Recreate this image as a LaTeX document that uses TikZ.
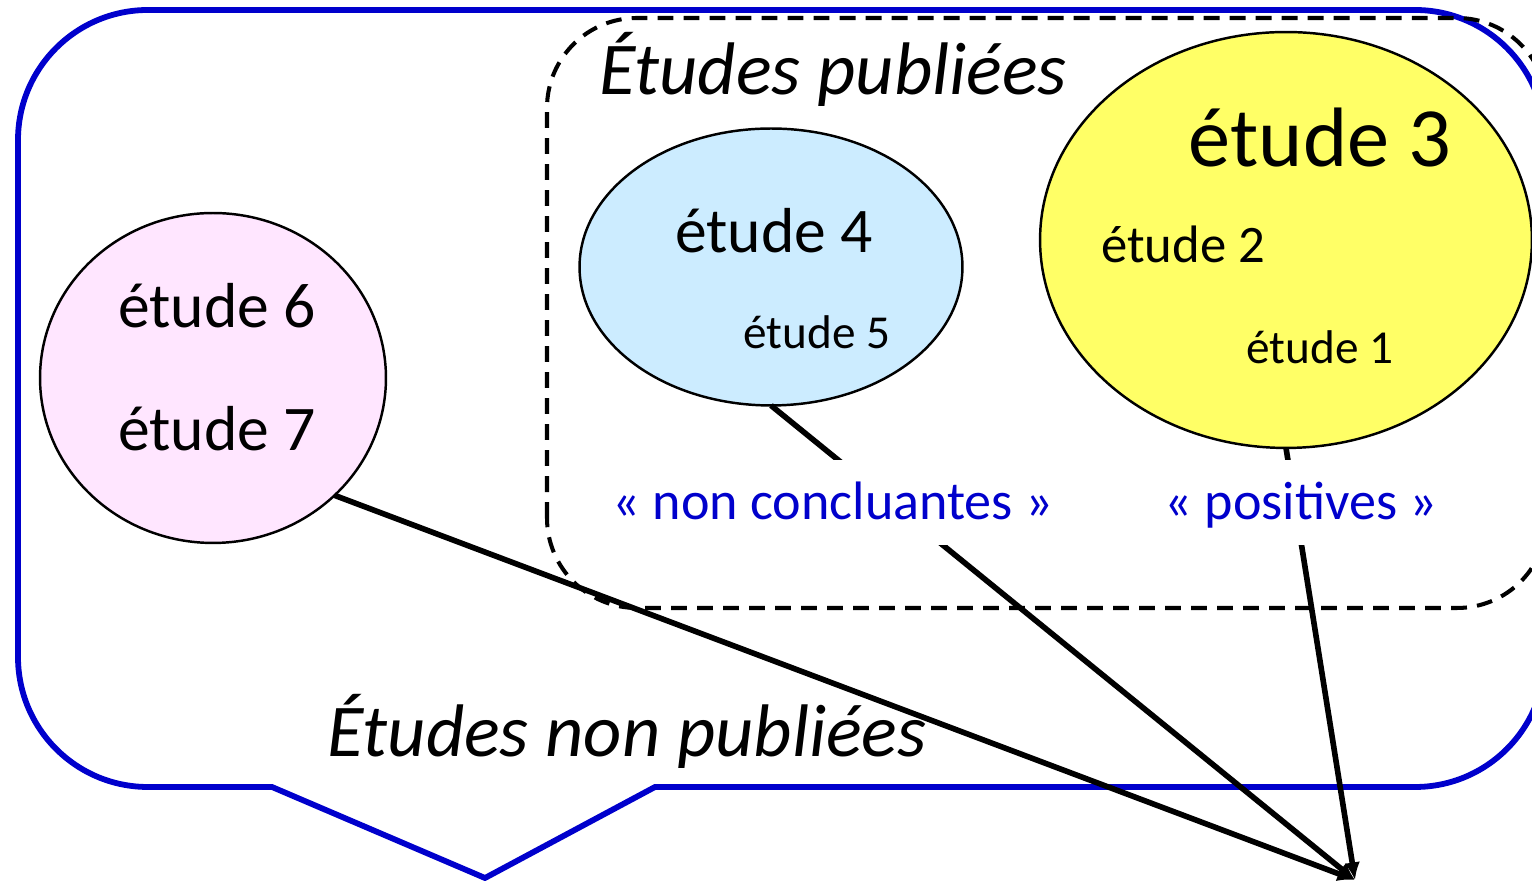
\documentclass[tikz,border=0pt]{standalone}
\usepackage{fontspec}
\setmainfont{Carlito}
\usetikzlibrary{arrows.meta,shapes.geometric}
\definecolor{frameblue}{HTML}{0000CC}
\definecolor{pinkfill}{HTML}{FFE6FF}
\definecolor{skyfill}{HTML}{CCECFF}
\definecolor{yellowfill}{HTML}{FFFF66}
\newcommand{\fs}[1]{\fontsize{#1}{#1}\selectfont}
\tikzset{
  outerframe/.style={draw=frameblue, line width=3.3pt, line join=miter},
  pubframe/.style={draw=black, line width=2.3pt, dash pattern=on 9pt off 5.8pt},
  group/.style={ellipse, draw=black, line width=1.4pt, inner sep=0pt, outer sep=0pt},
  study/.style={anchor=base, inner sep=0pt},
  title/.style={anchor=base, inner sep=0pt, font=\fs{42.4pt}\itshape},
  verdict/.style={anchor=base, fill=white, text=frameblue, font=\fs{30.8pt},
    text height=26pt, text depth=6pt, inner ysep=8pt, inner xsep=6pt},
  flow/.style={draw=black, line width=3.2pt, -{Latex[length=10pt,width=9pt]}},
}
\begin{document}
\begin{tikzpicture}[x=0.02cm, y=0.02cm]
\clip (0,0) rectangle (1532,881);

% unpublished studies: rounded callout frame
\draw[outerframe] (272,94) -- (148,94)
  arc[start angle=270, end angle=180, radius=130] -- (18,741)
  arc[start angle=180, end angle=90, radius=130] -- (1415,871)
  arc[start angle=90, end angle=0, radius=130] -- (1545,224)
  arc[start angle=0, end angle=-90, radius=130] -- (655,94)
  -- (485,3) -- cycle;

% published studies: dashed frame
\draw[pubframe, rounded corners=1.8cm] (547,273) rectangle (1547,863);

% groups of studies
\node[group, fill=pinkfill, minimum width=6.92cm, minimum height=6.6cm] (pink) at (213,503) {};
\node[group, fill=skyfill, minimum width=7.66cm, minimum height=5.54cm] (sky) at (771,614) {};
\node[group, fill=yellowfill, minimum width=9.84cm, minimum height=8.32cm] (yellow) at (1286,641) {};

% study names
\node[study, font=\fs{36.2pt}] (e6) at (217,553) {étude 6};
\node[study, font=\fs{36.2pt}] (e7) at (217,430) {étude 7};
\node[study, font=\fs{36.2pt}] (e4) at (774,628) {étude 4};
\node[study, font=\fs{26.9pt}] (e5) at (817,532) {étude 5};
\node[study, font=\fs{48pt}] (e3) at (1320,714) {étude 3};
\node[study, font=\fs{30pt}] (e2) at (1183,618) {étude 2};
\node[study, font=\fs{26.9pt}] (e1) at (1320,517) {étude 1};

% frame titles
\node[title] (tpub) at (833,786) {Études publiées};
\node[title] (tunpub) at (627,124) {Études non publiées};

% arrows to the common point
\coordinate (sink) at (1355,1);
\draw[flow] (pink.-44) -- (sink);
\draw[flow] (sky.south) -- (sink);
\draw[flow] (yellow.south) -- (sink);

% result labels, masking the arrows behind them
\node[verdict] (neg) at (833,361) {« non concluantes »};
\node[verdict] (pos) at (1301,361) {« positives »};
\end{tikzpicture}
\end{document}
